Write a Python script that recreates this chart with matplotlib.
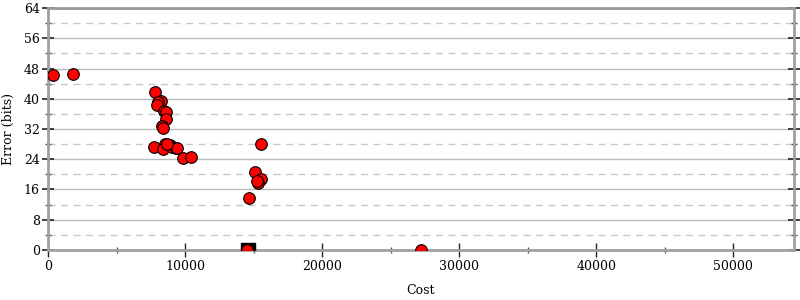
import matplotlib
matplotlib.use("Agg")
import matplotlib.pyplot as plt
from matplotlib.ticker import MultipleLocator

# red points: cost vs error (bits)
cost = [365, 1825, 7810, 8250, 8030, 7934, 8467, 8591, 8591, 8299, 8394,
        7759, 8540, 8416, 8905, 9073, 9321, 9416, 8650, 9854, 10416,
        15526, 15109, 15547, 15350, 15255, 14693, 14547, 27226]
error = [46.3, 46.5, 41.8, 39.5, 39.1, 38.3, 36.8, 36.5, 34.6, 32.9, 32.3,
         27.3, 28.0, 26.8, 27.7, 27.3, 26.9, 26.9, 28.0, 24.2, 24.7,
         27.9, 20.5, 18.8, 17.6, 18.3, 13.7, 0.0, 0.0]

# black square marker
sq_cost = [14620]
sq_error = [0.0]

plt.rcParams["font.family"] = "DejaVu Serif"

fig = plt.figure(figsize=(8, 3), dpi=100)
ax = fig.add_axes([0.06, 0.167, 0.932, 0.806])

ax.scatter(sq_cost, sq_error, marker="s", s=110, color="black", zorder=3)
ax.scatter(cost, error, s=70, color="red", edgecolor="black", linewidth=0.8, zorder=4)

ax.set_xlim(0, 54400)
ax.set_ylim(0, 64)
ax.xaxis.set_major_locator(MultipleLocator(10000))
ax.xaxis.set_minor_locator(MultipleLocator(5000))
ax.yaxis.set_major_locator(MultipleLocator(8))
ax.yaxis.set_minor_locator(MultipleLocator(4))

ax.grid(True, which="major", axis="y", color="#bbbbbb", linewidth=1)
ax.grid(True, which="minor", axis="y", color="#c8c8c8", linewidth=1, linestyle=(0, (5, 4)))
ax.set_axisbelow(True)

for side in ["left", "right", "bottom", "top"]:
    ax.spines[side].set_color("#a0a0a0")
    ax.spines[side].set_linewidth(2)
ax.spines["top"].set_color("#999999")

ax.tick_params(which="major", direction="inout", length=8, width=1.2, color="#222222",
               labelsize=9, right=True, pad=2)
ax.tick_params(which="minor", direction="inout", length=5, width=1, color="#555555", right=True)
ax.tick_params(axis="x", which="major", length=10, width=1, pad=2)

ax.set_xlabel("Cost", fontsize=9, labelpad=8)
ax.set_ylabel("Error (bits)", fontsize=9, labelpad=6)

fig.savefig("out.png", dpi=100)
